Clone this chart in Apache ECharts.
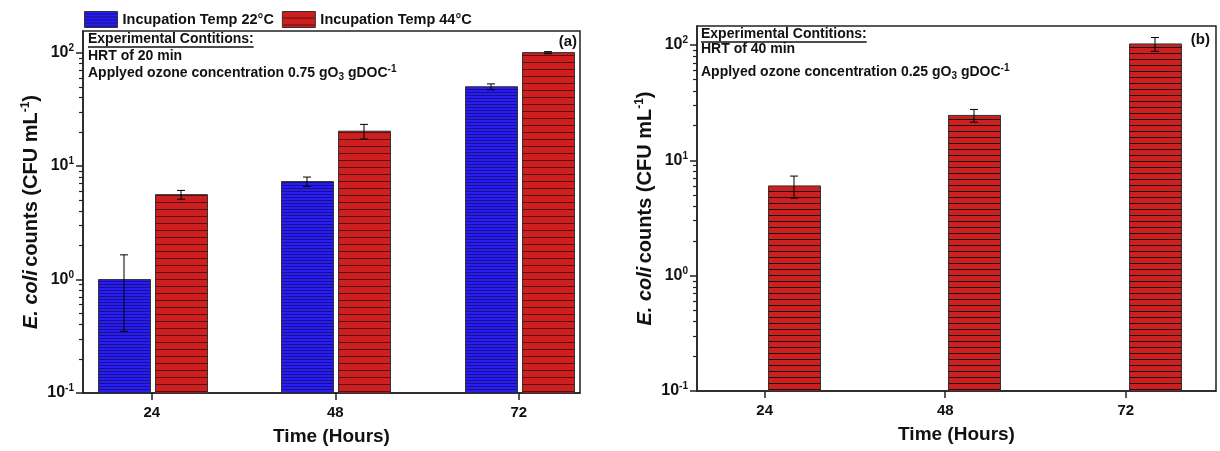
<!DOCTYPE html>
<html><head><meta charset="utf-8">
<script src="https://cdn.jsdelivr.net/npm/echarts@6/dist/echarts.min.js"></script>
<style>html,body{margin:0;padding:0;background:#fff}#c{width:1220px;height:451px}</style>
</head><body><div id="c"></div>
<script>
// ---------------- data ----------------
const hours = [24, 48, 72];
const yTickValues = [0.1, 1, 10, 100];
const yMinorTickValues = [0.2,0.3,0.4,0.5,0.6,0.7,0.8,0.9,2,3,4,5,6,7,8,9,20,30,40,50,60,70,80,90];
const seriesNames = ['Incupation Temp 22°C', 'Incupation Temp 44°C'];
// panel (a)
const a_temp22 = [1.0, 7.3, 50];
const a_temp22_err = [0.65, 0.7, 3];
const a_temp44 = [5.6, 20.3, 100];
const a_temp44_err = [0.5, 3, 2];
// panel (b)
const b_temp44 = [6.0, 24.5, 102];
const b_temp44_err = [1.3, 3.1, 14];

// ---------------- style ----------------
const FONT = '"Liberation Sans", Arial, Helvetica, sans-serif';
const BW = 52;
function makePattern(h, base, line, rows) {
  const c = document.createElement('canvas'); c.width = 8; c.height = h;
  const g = c.getContext('2d'); g.fillStyle = base; g.fillRect(0, 0, 8, h);
  g.fillStyle = line; g.fillRect(0, h - rows, 8, rows);
  return {image: c, repeat: 'repeat'};
}
const blueFill = makePattern(3, '#2a1cf5', '#16108a', 1);
const redFillA = makePattern(7, '#cd1f1f', '#5a0d0d', 1);
const redFillB = makePattern(6, '#cd1f1f', '#151010', 1);

function barSeries(name, xi, yi, vals, errs, fill, leftOff, yMin) {
  return {
    type: 'custom', name: name, xAxisIndex: xi, yAxisIndex: yi,
    itemStyle: {color: fill, borderColor: '#333', borderWidth: 1},
    encode: {x: 0, y: 1},
    data: hours.map((h, i) => [h, vals[i], errs[i]]),
    clip: false, z: 3,
    renderItem: function (params, api) {
      const x = api.value(0), v = api.value(1), e = api.value(2);
      const top = api.coord([x, v]);
      const base = api.coord([x, yMin]);
      const x0 = Math.round(top[0]) + leftOff;
      const cx = x0 + BW / 2;
      const hi = api.coord([x, v + e]);
      const lo = api.coord([x, Math.max(v - e, yMin)]);
      return {type: 'group', children: [
        {type: 'rect', shape: {x: x0 + 0.5, y: top[1], width: BW, height: base[1] - top[1]},
         style: {fill: fill, stroke: '#333', lineWidth: 1}},
        {type: 'line', shape: {x1: cx, y1: hi[1], x2: cx, y2: lo[1]}, style: {stroke: '#000', lineWidth: 1}},
        {type: 'line', shape: {x1: cx - 4, y1: hi[1], x2: cx + 4, y2: hi[1]}, style: {stroke: '#000', lineWidth: 1}},
        {type: 'line', shape: {x1: cx - 4, y1: lo[1], x2: cx + 4, y2: lo[1]}, style: {stroke: '#000', lineWidth: 1}}
      ]};
    }
  };
}

const axisCol = '#222';
function xAxisCfg(gi, max) {
  return {
    type: 'value', gridIndex: gi, min: 15, max: max,
    axisLine: {show: true, lineStyle: {color: axisCol, width: 1.5}},
    axisTick: {show: true, customValues: hours, length: 7, lineStyle: {color: axisCol, width: 1.5}},
    axisLabel: {customValues: hours, fontSize: 15, fontWeight: 'bold', fontFamily: FONT, color: '#111', margin: 12},
    splitLine: {show: false},
    name: 'Time (Hours)', nameLocation: 'middle', nameGap: 34,
    nameTextStyle: {fontSize: 19, fontWeight: 'bold', fontFamily: FONT, color: '#111'}
  };
}
function yAxisMajor(gi, max) {
  return {
    type: 'log', gridIndex: gi, min: 0.1, max: max, position: 'left',
    axisLine: {show: true, lineStyle: {color: axisCol, width: 1.5}},
    axisTick: {show: true, customValues: yTickValues, length: 7, lineStyle: {color: axisCol, width: 1.5}},
    axisLabel: {
      customValues: yTickValues, margin: 9,
      formatter: v => '{b|10}{s|' + Math.round(Math.log10(v)) + '}',
      rich: {
        b: {fontSize: 16, fontWeight: 'bold', fontFamily: FONT, color: '#111', lineHeight: 19},
        s: {fontSize: 10, fontWeight: 'bold', fontFamily: FONT, color: '#111', lineHeight: 10, verticalAlign: 'top'}
      }
    },
    splitLine: {show: false}, minorTick: {show: false},
    name: '{i|E. coli} {b|counts (CFU mL}{s|-1}{b|)}', nameLocation: 'middle', nameGap: 40, nameRotate: 90,
    nameMoveOverlap: false,
    nameTextStyle: {
      rich: {
        i: {fontSize: 20, fontWeight: 'bold', fontStyle: 'italic', fontFamily: FONT, color: '#111', lineHeight: 23},
        b: {fontSize: 20, fontWeight: 'bold', fontFamily: FONT, color: '#111', lineHeight: 23},
        s: {fontSize: 12, fontWeight: 'bold', fontFamily: FONT, color: '#111', lineHeight: 12, verticalAlign: 'top'}
      }
    }
  };
}
function yAxisMinor(gi, max) {
  return {
    type: 'log', gridIndex: gi, min: 0.1, max: max, position: 'left', offset: 0,
    axisLine: {show: false},
    axisTick: {show: true, customValues: yMinorTickValues, length: 4, lineStyle: {color: axisCol, width: 1.2}},
    axisLabel: {show: false}, splitLine: {show: false}
  };
}

// text measuring for underline
const mctx = document.createElement('canvas').getContext('2d');
mctx.font = 'bold 14px ' + FONT;
const ulW = mctx.measureText('Experimental Contitions:').width;

const richNote = {
  sub: {fontSize: 10, fontWeight: 'bold', fontFamily: FONT, fill: '#111', lineHeight: 10, verticalAlign: 'bottom'},
  sup: {fontSize: 10, fontWeight: 'bold', fontFamily: FONT, fill: '#111', lineHeight: 10, verticalAlign: 'top'}
};
function notes(x, y1, y2, y3, hrt, conc) {
  const f = 'bold 14px ' + FONT;
  return [
    {type: 'text', x: x, y: y1, style: {text: 'Experimental Contitions:', font: f, fill: '#111', verticalAlign: 'middle'}},
    {type: 'line', shape: {x1: x, y1: y1 + 8, x2: x + ulW, y2: y1 + 8}, style: {stroke: '#111', lineWidth: 1.3}},
    {type: 'text', x: x, y: y2, style: {text: hrt, font: f, fill: '#111', verticalAlign: 'middle'}},
    {type: 'text', x: x, y: y3, style: {text: 'Applyed ozone concentration ' + conc + ' gO{sub|3} gDOC{sup|-1}', font: f, fontSize: 14, fontWeight: 'bold', fontFamily: FONT, lineHeight: 18, fill: '#111', verticalAlign: 'middle', rich: richNote}}
  ];
}

const chart = echarts.init(document.getElementById('c'), null, {renderer: 'canvas'});
chart.setOption({
  animation: false,
  backgroundColor: '#fff',
  aria: {enabled: false},
  legend: {
    left: 79, top: 6, itemWidth: 33, itemHeight: 16, itemGap: 8, icon: 'rect',
    selectedMode: false, data: seriesNames,
    itemStyle: {borderColor: '#333', borderWidth: 1},
    textStyle: {fontSize: 14.5, fontWeight: 'bold', fontFamily: FONT, color: '#111'}
  },
  grid: [
    {left: 83, top: 31, width: 497, height: 362, show: true, borderColor: axisCol, borderWidth: 1.5, outerBoundsMode: 'none', containLabel: false},
    {left: 697, top: 26, width: 519, height: 365, show: true, borderColor: axisCol, borderWidth: 1.5, outerBoundsMode: 'none', containLabel: false}
  ],
  xAxis: [xAxisCfg(0, 80), xAxisCfg(1, 84)],
  yAxis: [yAxisMajor(0, 155), yAxisMinor(0, 155), yAxisMajor(1, 146), yAxisMinor(1, 146)],
  series: [
    barSeries(seriesNames[0], 0, 0, a_temp22, a_temp22_err, blueFill, -54, 0.1),
    barSeries(seriesNames[1], 0, 0, a_temp44, a_temp44_err, redFillA, 3, 0.1),
    barSeries(seriesNames[1], 1, 2, b_temp44, b_temp44_err, redFillB, 3, 0.1)
  ],
  graphic: [].concat(
    notes(88, 39, 56, 73, 'HRT of 20 min', '0.75'),
    notes(701, 34, 49, 72, 'HRT of 40 min', '0.25'),
    [
      {type: 'text', x: 577, y: 42, style: {text: '(a)', font: 'bold 15px ' + FONT, fill: '#111', align: 'right', verticalAlign: 'middle'}},
      {type: 'text', x: 1210, y: 40, style: {text: '(b)', font: 'bold 15px ' + FONT, fill: '#111', align: 'right', verticalAlign: 'middle'}}
    ]
  )
});
</script>
</body></html>
